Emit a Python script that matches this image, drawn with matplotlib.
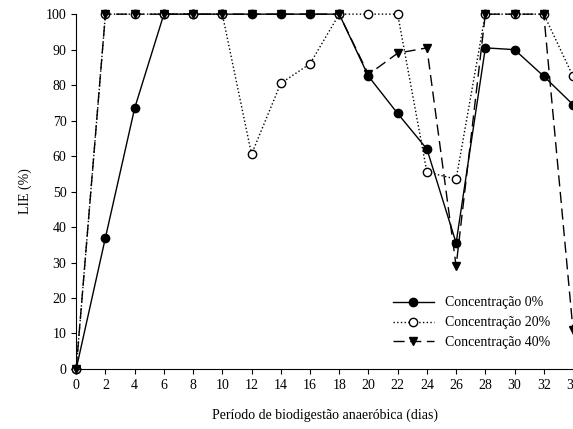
import numpy as np
import matplotlib
matplotlib.use("Agg")
import matplotlib.pyplot as plt

plt.rcParams['font.family'] = ['Liberation Serif', 'DejaVu Serif']

dias = [0, 2, 4, 6, 8, 10, 12, 14, 16, 18, 20, 22, 24, 26, 28, 30, 32, 34]
c0 = [0, 37, 73.5, 100, 100, 100, 100, 100, 100, 100, 82.5, 72, 62, 35.5, 90.5, 90, 82.5, 74.5]
c20 = [0, 100, 100, 100, 100, 100, 60.5, 80.5, 86, 100, 100, 100, 55.5, 53.5, 100, 100, 100, 82.5]
c40 = [0, 100, 100, 100, 100, 100, 100, 100, 100, 100, 83, 89, 90.5, 29, 100, 100, 100, 11]

fig = plt.figure(figsize=(5.73, 4.29), dpi=100)
ax = fig.add_axes([0.133, 0.14, 0.867, 0.827])

ax.plot(dias, c0, '-', color='black', lw=1, marker='o', ms=6, mfc='black',
        label='Concentração 0%', clip_on=False)
ax.plot(dias, c20, ':', color='black', lw=1, marker='o', ms=6, mfc='white',
        label='Concentração 20%', clip_on=False)
ax.plot(dias, c40, '--', color='black', lw=1, marker='v', ms=6, mfc='black',
        dashes=(8, 4), label='Concentração 40%', clip_on=False)

ax.set_xlim(0, 34)
ax.set_ylim(0, 100)
ax.set_xticks(dias)
ax.set_yticks(range(0, 101, 10))
ax.tick_params(labelsize=10)
ax.spines['top'].set_visible(False)
ax.spines['right'].set_visible(False)
ax.set_xlabel('Período de biodigestão anaeróbica (dias)', fontsize=10, labelpad=12)
ax.set_ylabel('LIE (%)', fontsize=10, labelpad=10)
ax.legend(loc='lower right', bbox_to_anchor=(0.98, 0.02), frameon=False, fontsize=10,
          handlelength=3)

fig.savefig('out.png', dpi=100)
